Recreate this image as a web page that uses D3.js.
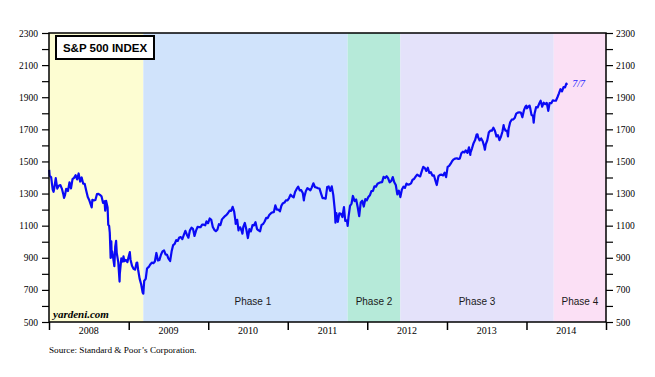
<!DOCTYPE html>
<html>
<head>
<meta charset="utf-8">
<script src="https://cdn.jsdelivr.net/npm/d3@7"></script>
<style>
  body { margin: 0; background: #fff; }
  svg { display: block; }
  .serif { font-family: "Liberation Serif", "Times New Roman", serif; }
  .sans { font-family: "Liberation Sans", Arial, sans-serif; }
</style>
</head>
<body>
<div id="chart"></div>
<script>
// S&P 500 closes (weekly, plus a few daily extremes)
const sp2008 = [["01-02",1447],["01-04",1411],["01-11",1401],["01-18",1325],["01-22",1311],["01-25",1331],["02-01",1396],["02-08",1331],["02-15",1349],["02-22",1353],["02-29",1331],["03-07",1294],["03-10",1273],["03-14",1288],["03-20",1330],["03-28",1316],["04-04",1370],["04-11",1332],["04-18",1390],["04-25",1398],["05-02",1414],["05-09",1388],["05-16",1425],["05-23",1375],["05-30",1400],["06-06",1361],["06-13",1360],["06-20",1318],["06-27",1278],["07-03",1262],["07-15",1214],["07-18",1261],["07-25",1257],["08-01",1260],["08-08",1296],["08-15",1298],["08-22",1292],["08-29",1283],["09-05",1242],["09-12",1252],["09-15",1193],["09-19",1255],["09-26",1213],["09-29",1106],["10-03",1099],["10-06",1057],["10-10",899],["10-13",1003],["10-15",907],["10-17",940],["10-24",877],["10-27",848],["10-31",969],["11-04",1005],["11-07",930],["11-14",873],["11-20",752],["11-21",800],["11-28",896],["12-05",876],["12-08",909],["12-12",879],["12-19",887],["12-26",873],["12-31",903]];
const sp2009 = [["01-06",935],["01-09",890],["01-16",850],["01-23",832],["01-30",826],["02-06",869],["02-09",870],["02-13",827],["02-20",770],["02-27",735],["03-06",683],["03-09",677],["03-13",756],["03-20",769],["03-26",833],["04-03",843],["04-09",857],["04-17",870],["04-24",866],["05-01",877],["05-08",930],["05-15",883],["05-22",887],["05-29",919],["06-05",940],["06-12",946],["06-19",921],["06-26",918],["07-02",896],["07-10",880],["07-17",940],["07-24",979],["07-31",987],["08-07",1010],["08-14",1005],["08-21",1026],["08-28",1029],["09-04",1016],["09-11",1042],["09-18",1068],["09-25",1044],["10-02",1025],["10-09",1071],["10-16",1087],["10-23",1080],["10-30",1036],["11-06",1069],["11-13",1093],["11-20",1091],["11-27",1091],["12-04",1106],["12-11",1106],["12-18",1102],["12-24",1127],["12-31",1115]];
const sp2010 = [["01-08",1145],["01-15",1136],["01-22",1092],["01-29",1074],["02-05",1066],["02-12",1075],["02-19",1109],["02-26",1104],["03-05",1139],["03-12",1150],["03-19",1160],["03-26",1167],["04-02",1179],["04-09",1194],["04-16",1192],["04-23",1217],["04-30",1187],["05-06",1128],["05-07",1111],["05-14",1136],["05-20",1071],["05-21",1087],["05-28",1089],["06-04",1065],["06-07",1050],["06-11",1092],["06-18",1117],["06-25",1076],["07-02",1023],["07-09",1078],["07-16",1065],["07-23",1103],["07-30",1102],["08-06",1122],["08-13",1079],["08-20",1071],["08-27",1065],["09-03",1105],["09-10",1110],["09-17",1126],["09-24",1149],["10-01",1147],["10-08",1166],["10-15",1176],["10-22",1183],["10-29",1184],["11-05",1226],["11-12",1200],["11-19",1200],["11-26",1189],["12-03",1225],["12-10",1240],["12-17",1244],["12-23",1257],["12-31",1258]];
const sp2011 = [["01-07",1272],["01-14",1293],["01-21",1283],["01-28",1276],["02-04",1311],["02-11",1329],["02-18",1343],["02-25",1320],["03-04",1321],["03-11",1304],["03-16",1257],["03-18",1279],["03-25",1314],["04-01",1333],["04-08",1328],["04-15",1320],["04-21",1337],["04-29",1364],["05-06",1340],["05-13",1338],["05-20",1333],["05-27",1331],["06-03",1300],["06-10",1271],["06-17",1271],["06-24",1268],["07-01",1340],["07-08",1344],["07-15",1316],["07-22",1345],["07-29",1292],["08-05",1199],["08-08",1119],["08-12",1179],["08-19",1124],["08-26",1177],["09-02",1174],["09-09",1154],["09-16",1216],["09-22",1129],["09-23",1136],["09-30",1131],["10-03",1099],["10-07",1155],["10-14",1224],["10-21",1238],["10-27",1285],["11-04",1253],["11-11",1263],["11-18",1216],["11-25",1159],["12-02",1244],["12-09",1255],["12-16",1219],["12-23",1265],["12-30",1258]];
const sp2012 = [["01-06",1278],["01-13",1289],["01-20",1315],["01-27",1316],["02-03",1345],["02-10",1343],["02-17",1361],["02-24",1366],["03-02",1370],["03-09",1371],["03-16",1404],["03-23",1397],["03-30",1408],["04-05",1398],["04-13",1370],["04-20",1378],["04-27",1403],["05-04",1370],["05-11",1353],["05-18",1295],["05-25",1318],["06-01",1278],["06-08",1325],["06-15",1343],["06-22",1335],["06-29",1362],["07-06",1355],["07-13",1357],["07-20",1363],["07-27",1386],["08-03",1391],["08-10",1405],["08-17",1418],["08-24",1411],["08-31",1407],["09-07",1438],["09-14",1466],["09-21",1460],["09-28",1441],["10-05",1461],["10-12",1429],["10-19",1433],["10-26",1412],["11-02",1414],["11-09",1380],["11-15",1353],["11-16",1360],["11-23",1409],["11-30",1416],["12-07",1418],["12-14",1413],["12-21",1430],["12-28",1402]];
const sp2013 = [["01-04",1466],["01-11",1472],["01-18",1486],["01-25",1503],["02-01",1513],["02-08",1518],["02-15",1520],["02-22",1516],["03-01",1518],["03-08",1551],["03-15",1561],["03-22",1556],["03-28",1569],["04-05",1553],["04-12",1588],["04-18",1541],["04-19",1555],["04-26",1582],["05-03",1614],["05-10",1633],["05-17",1667],["05-21",1669],["05-24",1650],["05-31",1631],["06-07",1643],["06-14",1626],["06-21",1593],["06-24",1573],["06-28",1606],["07-05",1632],["07-12",1680],["07-19",1692],["07-26",1691],["08-02",1710],["08-09",1691],["08-16",1656],["08-23",1664],["08-30",1633],["09-06",1655],["09-13",1688],["09-18",1726],["09-20",1710],["09-27",1692],["10-04",1691],["10-08",1656],["10-11",1703],["10-18",1744],["10-25",1760],["11-01",1762],["11-08",1771],["11-15",1798],["11-22",1804],["11-29",1806],["12-06",1805],["12-13",1775],["12-20",1818],["12-27",1841],["12-31",1848]];
const sp2014 = [["01-03",1831],["01-10",1842],["01-15",1848],["01-17",1839],["01-24",1790],["01-31",1783],["02-03",1742],["02-07",1797],["02-14",1838],["02-21",1836],["02-28",1859],["03-07",1878],["03-14",1841],["03-21",1866],["03-28",1857],["04-04",1865],["04-11",1815],["04-17",1864],["04-25",1863],["05-02",1881],["05-09",1878],["05-16",1878],["05-23",1900],["05-30",1924],["06-06",1950],["06-13",1936],["06-20",1963],["06-27",1961],["07-03",1985],["07-07",1977]];

// shaded periods
const phaseStarts = ["2008-01-01", "2009-03-09", "2011-10-03", "2012-06-01", "2014-05-06"];
const phaseEnds   = ["2009-03-09", "2011-10-03", "2012-06-01", "2014-05-06", "2015-01-01"];
const phaseLabels = ["", "Phase 1", "Phase 2", "Phase 3", "Phase 4"];
const phaseLabelDates = [null, "2010-07-25", null, null, null];
const phaseColors = ["#fdfdd2", "#d0e3fb", "#b6ead9", "#e4e2fa", "#fbe0f5"];

const yearLabels = ["2008", "2009", "2010", "2011", "2012", "2013", "2014"];
const yTicks = d3.range(500, 2301, 100);
const lastLabel = "7/7";

const W = 655, H = 377;
const plot = { left: 49, right: 606, top: 33, bottom: 322 };

const parse = d3.timeParse("%Y-%m-%d");
const series = [];
[[2008, sp2008], [2009, sp2009], [2010, sp2010], [2011, sp2011], [2012, sp2012], [2013, sp2013], [2014, sp2014]]
  .forEach(function (yr) {
    yr[1].forEach(function (d) {
      series.push({ date: parse(yr[0] + "-" + d[0]), value: d[1] });
    });
  });

const x = d3.scaleTime()
  .domain([parse("2008-01-01"), parse("2015-01-01")])
  .range([plot.left, plot.right]);
const y = d3.scaleLinear()
  .domain([500, 2300])
  .range([plot.bottom, plot.top]);

const svg = d3.select("#chart").append("svg")
  .attr("width", W)
  .attr("height", H);

// phase backgrounds
svg.append("g").selectAll("rect")
  .data(phaseStarts)
  .enter().append("rect")
  .attr("x", d => x(parse(d)))
  .attr("y", plot.top)
  .attr("width", (d, i) => x(parse(phaseEnds[i])) - x(parse(d)))
  .attr("height", plot.bottom - plot.top)
  .style("fill", (d, i) => phaseColors[i]);

// phase labels
svg.append("g").selectAll("text")
  .data(phaseLabels)
  .enter().append("text")
  .attr("class", "sans")
  .attr("x", function (d, i) {
    if (phaseLabelDates[i]) return x(parse(phaseLabelDates[i]));
    return (x(parse(phaseStarts[i])) + x(parse(phaseEnds[i]))) / 2;
  })
  .attr("y", 305)
  .attr("text-anchor", "middle")
  .style("font-size", "10px")
  .style("fill", "#1a1a1a")
  .text(d => d);

// S&P line
const line = d3.line()
  .x(d => x(d.date))
  .y(d => y(d.value));
svg.append("path")
  .datum(series)
  .attr("d", line)
  .style("fill", "none")
  .style("stroke", "#0a0af5")
  .style("stroke-width", 2.2)
  .style("stroke-linejoin", "round");

const last = series[series.length - 1];
svg.append("text")
  .attr("class", "serif")
  .attr("x", x(last.date) + 5)
  .attr("y", y(last.value) + 2)
  .style("font-size", "10px")
  .style("font-style", "italic")
  .style("fill", "#1f1fff")
  .text(lastLabel);

// frame
svg.append("rect")
  .attr("x", plot.left)
  .attr("y", plot.top)
  .attr("width", plot.right - plot.left)
  .attr("height", plot.bottom - plot.top)
  .style("fill", "none")
  .style("stroke", "#000")
  .style("stroke-width", 1.5);

// y axes, left and right
const yLeft = svg.append("g")
  .attr("transform", `translate(${plot.left},0)`)
  .call(d3.axisLeft(y).tickValues(yTicks).tickSize(7).tickPadding(4)
    .tickFormat(d => d % 200 === 100 ? d : ""));
const yRight = svg.append("g")
  .attr("transform", `translate(${plot.right},0)`)
  .call(d3.axisRight(y).tickValues(yTicks).tickSize(7).tickPadding(3)
    .tickFormat(d => d % 200 === 100 ? d : ""));
[yLeft, yRight].forEach(function (g) {
  g.select(".domain").remove();
  g.selectAll("line").style("stroke", "#000").style("stroke-width", 1.2);
  g.selectAll("text")
    .attr("class", "serif")
    .style("font-size", "9.5px")
    .style("fill", "#000");
});

// x axis: ticks at year boundaries, labels mid-year
const yearStarts = d3.range(2008, 2016).map(yy => parse(yy + "-01-01"));
const xAxis = svg.append("g")
  .attr("transform", `translate(0,${plot.bottom})`)
  .call(d3.axisBottom(x).tickValues(yearStarts).tickSize(8).tickFormat(""));
xAxis.select(".domain").remove();
xAxis.selectAll("line").style("stroke", "#000").style("stroke-width", 1.5);

svg.append("g").selectAll("text")
  .data(yearLabels)
  .enter().append("text")
  .attr("class", "serif")
  .attr("x", d => (x(parse(d + "-01-01")) + x(parse((+d + 1) + "-01-01"))) / 2)
  .attr("y", 334)
  .attr("text-anchor", "middle")
  .style("font-size", "10px")
  .text(d => d);

// title box
svg.append("rect")
  .attr("x", 56)
  .attr("y", 36)
  .attr("width", 98)
  .attr("height", 23)
  .style("fill", "#fff")
  .style("stroke", "#000")
  .style("stroke-width", 2);
svg.append("text")
  .attr("class", "sans")
  .attr("x", 105)
  .attr("y", 52)
  .attr("text-anchor", "middle")
  .style("font-size", "11.5px")
  .style("font-weight", "bold")
  .text("S&P 500 INDEX");

svg.append("text")
  .attr("class", "serif")
  .attr("x", 53)
  .attr("y", 318)
  .style("font-size", "11px")
  .style("font-style", "italic")
  .style("font-weight", "bold")
  .text("yardeni.com");

svg.append("text")
  .attr("class", "serif")
  .attr("x", 49)
  .attr("y", 353)
  .style("font-size", "9.2px")
  .text("Source: Standard & Poor\u2019s Corporation.");
</script>
</body>
</html>
